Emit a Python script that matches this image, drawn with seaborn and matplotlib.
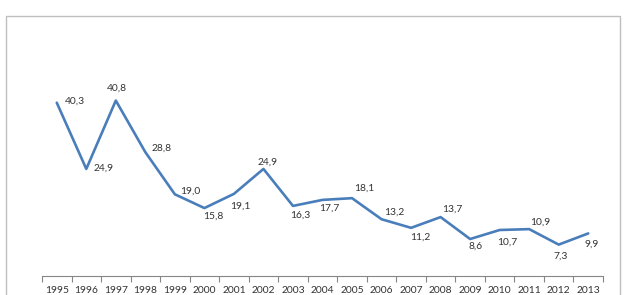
import pandas as pd
import seaborn as sns
import matplotlib.pyplot as plt
from matplotlib.patches import Rectangle

# %%
years = list(range(1995, 2014))
values = [40.3, 24.9, 40.8, 28.8, 19.0, 15.8, 19.1, 24.9, 16.3, 17.7,
          18.1, 13.2, 11.2, 13.7, 8.6, 10.7, 10.9, 7.3, 9.9]
value_labels = [f"{v:.1f}".replace(".", ",") for v in values]

# label offsets in pixels (dx, dy), hand placed like the original
label_offsets = [(18, 2), (17, 1), (1, 12), (16, 4), (15, 3), (9, -8),
                 (6, -12), (4, 7), (7, -9), (7, -8), (12, 10), (13, 7),
                 (9, -9), (12, 8), (5, -7), (8, -12), (11, 7), (2, -12), (3, -11)]

df = pd.DataFrame({"year": years, "value": values})

# %%
sns.set_style("white")
plt.rcParams["font.family"] = ["Lato", "DejaVu Sans"]

fig = plt.figure(figsize=(6.24, 2.95), dpi=100)
fig.patches.append(Rectangle((6 / 624, -0.1), 614 / 624, 1.1 - 16 / 295,
                             transform=fig.transFigure, fill=False,
                             edgecolor="#bfbfbf", lw=1.0))

ax = fig.add_axes([42 / 624, 1 - 276 / 295, 561 / 624, 215 / 295])

sns.lineplot(data=df, x="year", y="value", color="#4a7ebb", linewidth=1.9, ax=ax)

for x, y, txt, (dx, dy) in zip(years, values, value_labels, label_offsets):
    ax.annotate(txt, (x, y), xytext=(dx, dy), textcoords="offset pixels",
                ha="center", va="center", fontsize=7.4, color="#333333")

ax.set_xlim(1994.5, 2013.5)
ax.set_ylim(0, 50)
ax.set_xticks(years)
ax.set_xticklabels([str(y) for y in years], fontsize=7.4, color="#333333")
ax.set_xticks([y + 0.5 for y in [1994] + years], minor=True)
ax.tick_params(axis="x", which="major", length=0, pad=7)
ax.tick_params(axis="x", which="minor", length=4, color="#868686", width=0.8, bottom=True)
ax.set_yticks([])
ax.set_xlabel("")
ax.set_ylabel("")
for s in ["top", "right", "left"]:
    ax.spines[s].set_visible(False)
ax.spines["bottom"].set_color("#868686")
ax.spines["bottom"].set_linewidth(0.8)

# %%
fig.savefig("out.png", dpi=100)
